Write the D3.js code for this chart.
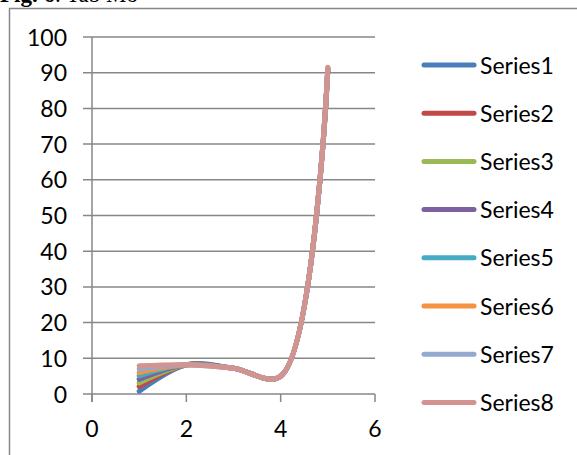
<!DOCTYPE html>
<html>
<head>
<meta charset="utf-8">
<script src="https://cdn.jsdelivr.net/npm/d3@7"></script>
<style>
body { margin:0; background:#fff; }
svg { display:block; }
</style>
</head>
<body>
<svg id="svg1" width="577" height="455"></svg>
<script>
var xValues = [1,2,3,4,5];
var seriesNames = ["Series1","Series2","Series3","Series4","Series5","Series6","Series7","Series8"];
var s1 = [0.8,8.2,7.2,5.0,90.6];
var s2 = [2.1,8.2,7.2,5.0,91.0];
var s3 = [3.1,8.2,7.2,5.0,91.1];
var s4 = [4.1,8.2,7.2,5.0,91.2];
var s5 = [5.1,8.2,7.2,5.0,91.3];
var s6 = [6.0,8.2,7.2,5.0,91.4];
var s7 = [7.0,8.2,7.2,5.0,91.4];
var s8 = [7.9,8.2,7.2,5.0,91.5];
var series = [s1,s2,s3,s4,s5,s6,s7,s8];
var yTicks = [0,10,20,30,40,50,60,70,80,90,100];
var xTicks = [0,2,4,6];

var colors = ["#4a7ebb","#be4b48","#98b954","#7d60a0","#46aac5","#f69240","#93a9cf","#d39391"];

var svg = d3.select('#svg1');
var x = d3.scaleLinear().domain([0,6]).range([92,375]);
var y = d3.scaleLinear().domain([0,100]).range([394,37]);

// chart frame, runs off the right and bottom edges
svg.append("rect")
    .attr("x",9.5).attr("y",8.5)
    .attr("width",620).attr("height",500)
    .style("fill","none")
    .style("stroke","#878787")
    .style("stroke-width","1.5px");

// caption, mostly cut off at the top
var cap = svg.append("text")
    .attr("x",0).attr("y",2)
    .style("font-family","'Liberation Serif','Times New Roman',serif")
    .style("font-size","23px")
    .style("fill","#000");
cap.append("tspan").style("font-weight","bold").text("Fig. 6");
cap.append("tspan").text(". Tab Mo");

// gridlines + y ticks
svg.append("g")
    .selectAll("line")
    .data(yTicks)
    .enter()
    .append("line")
    .attr("x1",x(0)-9).attr("x2",x(6))
    .attr("y1",function(d){return y(d);})
    .attr("y2",function(d){return y(d);})
    .style("stroke","#878787")
    .style("stroke-width","1.5px");

// y axis line
svg.append("line")
    .attr("x1",x(0)).attr("x2",x(0))
    .attr("y1",y(100)).attr("y2",y(0)+8)
    .style("stroke","#878787")
    .style("stroke-width","1.5px");

// x ticks
svg.append("g")
    .selectAll("line")
    .data(xTicks)
    .enter()
    .append("line")
    .attr("x1",function(d){return x(d);})
    .attr("x2",function(d){return x(d);})
    .attr("y1",y(0)).attr("y2",y(0)+8)
    .style("stroke","#878787")
    .style("stroke-width","1.5px");

var fontFam = "Lato, 'Open Sans', sans-serif";

svg.append("g")
    .selectAll("text")
    .data(yTicks)
    .enter()
    .append("text")
    .attr("x",67)
    .attr("y",function(d){return y(d)+8.5;})
    .style("text-anchor","end")
    .style("font-family",fontFam)
    .style("font-size","23px")
    .text(function(d){return d;});

svg.append("g")
    .selectAll("text")
    .data(xTicks)
    .enter()
    .append("text")
    .attr("x",function(d){return x(d);})
    .attr("y",437)
    .style("text-anchor","middle")
    .style("font-family",fontFam)
    .style("font-size","23px")
    .text(function(d){return d;});

var line = d3.line()
    .x(function(d,i){return x(xValues[i]);})
    .y(function(d){return y(d);})
    .curve(d3.curveCatmullRom.alpha(0.5));

svg.append("g")
    .selectAll("path")
    .data(series)
    .enter()
    .append("path")
    .attr("d",line)
    .style("fill","none")
    .style("stroke",function(d,i){return colors[i];})
    .style("stroke-width","5px")
    .style("stroke-linejoin","round")
    .style("stroke-linecap","round");

// legend
var leg = svg.append("g")
    .selectAll("g")
    .data(seriesNames)
    .enter()
    .append("g")
    .attr("transform",function(d,i){return "translate(0,"+(65+i*48.2)+")";});

leg.append("line")
    .attr("x1",424).attr("x2",474)
    .attr("y1",0).attr("y2",0)
    .style("stroke",function(d,i){return colors[i];})
    .style("stroke-width","5px")
    .style("stroke-linecap","round");

leg.append("text")
    .attr("x",480).attr("y",8.5)
    .style("font-family",fontFam)
    .style("font-size","23px")
    .text(function(d){return d;});
</script>
</body>
</html>
